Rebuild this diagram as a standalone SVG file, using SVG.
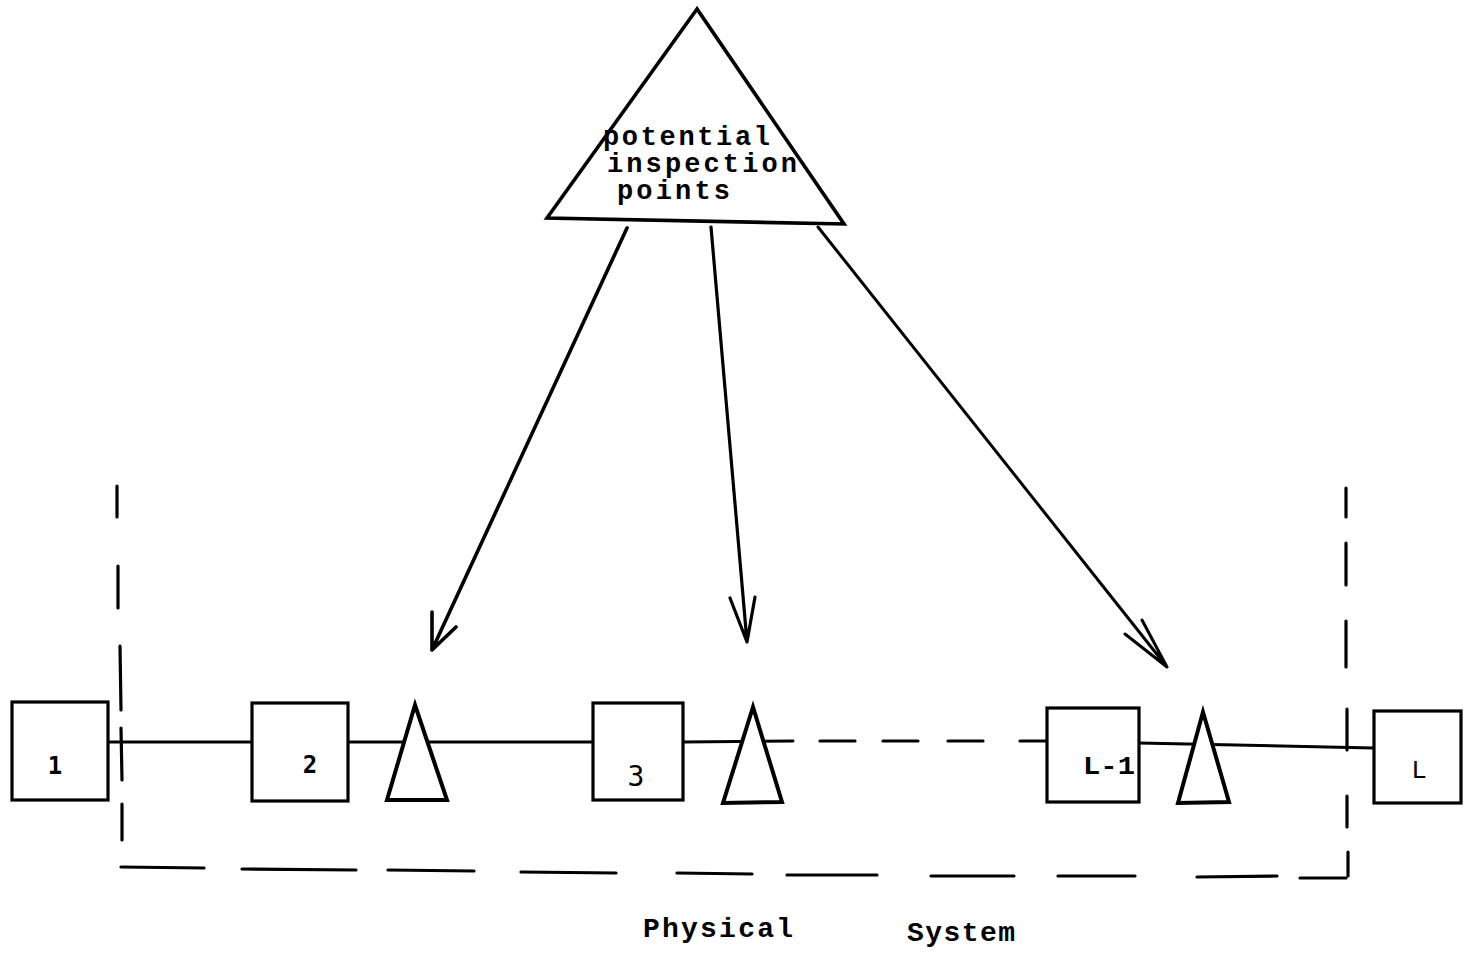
<svg xmlns="http://www.w3.org/2000/svg" width="1464" height="964" viewBox="0 0 1464 964">
<style>
.ln{fill:none;stroke:#000;stroke-linecap:round;stroke-linejoin:round}
.box{fill:#fff;stroke:#000;stroke-width:3.2}
.tri{fill:#fff;stroke:#000;stroke-width:4;stroke-linejoin:miter}
.tw{font-family:"Liberation Mono","Courier New",monospace;font-weight:bold;fill:#000}
.lbl{font-family:"DejaVu Sans Mono","Liberation Mono",monospace;fill:#000}
.dash{stroke:#000;stroke-width:3.2;stroke-linecap:round}
</style>
<rect width="1464" height="964" fill="#fff"/>

<g id="boundary">
  <line class="dash" x1="117" y1="486" x2="117" y2="517"/>
  <line class="dash" x1="118" y1="566" x2="118" y2="608"/>
  <line class="dash" x1="120" y1="646" x2="121" y2="710"/>
  <line class="dash" x1="121" y1="728" x2="122" y2="780"/>
  <line class="dash" x1="122" y1="804" x2="122" y2="840"/>
  <line class="dash" x1="121" y1="867" x2="204" y2="868"/>
  <line class="dash" x1="242" y1="869" x2="356" y2="870"/>
  <line class="dash" x1="388" y1="870" x2="474" y2="871"/>
  <line class="dash" x1="521" y1="872" x2="616" y2="873"/>
  <line class="dash" x1="677" y1="873" x2="752" y2="874"/>
  <line class="dash" x1="787" y1="875" x2="877" y2="875"/>
  <line class="dash" x1="931" y1="876" x2="1014" y2="876"/>
  <line class="dash" x1="1058" y1="876" x2="1135" y2="876"/>
  <line class="dash" x1="1197" y1="877" x2="1277" y2="876"/>
  <line class="dash" x1="1300" y1="878" x2="1346" y2="878"/>
  <line class="dash" x1="1346" y1="488" x2="1346" y2="517"/>
  <line class="dash" x1="1346" y1="543" x2="1346" y2="585"/>
  <line class="dash" x1="1346" y1="621" x2="1346" y2="667"/>
  <line class="dash" x1="1347" y1="709" x2="1347" y2="750"/>
  <line class="dash" x1="1347" y1="796" x2="1347" y2="827"/>
  <line class="dash" x1="1348" y1="852" x2="1348" y2="876"/>
</g>

<g id="connectors">
  <line class="ln" stroke-width="3" x1="109" y1="742" x2="252" y2="742"/>
  <line class="ln" stroke-width="3" x1="348" y1="742" x2="593" y2="742"/>
  <line class="ln" stroke-width="3" x1="683" y1="742" x2="793" y2="741"/>
  <line class="dash" x1="820" y1="741" x2="855" y2="741"/>
  <line class="dash" x1="883" y1="741" x2="918" y2="741"/>
  <line class="dash" x1="948" y1="741" x2="983" y2="741"/>
  <line class="dash" x1="1020" y1="741" x2="1047" y2="741"/>
  <line class="ln" stroke-width="3" x1="1139" y1="743" x2="1373" y2="748"/>
  <path class="ln" stroke-width="3.6" d="M627,228 L432,650 M432,612 L432,650 L456,627"/>
  <path class="ln" stroke-width="3.2" d="M711,227 L747,642 M730,598 L747,642 L755,597"/>
  <path class="ln" stroke-width="3" d="M818,227 L1167,667 M1125,634 L1167,667 L1142,620"/>
</g>

<g id="inspection-points">
  <polygon points="697,9 547,218 844,224" fill="#fff" stroke="#000" stroke-width="3.6" stroke-linejoin="miter"/>
  <text class="tw" font-size="27" x="603" y="145" textLength="167" lengthAdjust="spacing">potential</text>
  <text class="tw" font-size="27" x="607" y="172" textLength="190" lengthAdjust="spacing">inspection</text>
  <text class="tw" font-size="27" x="617" y="199" textLength="113" lengthAdjust="spacing">points</text>
</g>

<g id="node-1">
  <rect class="box" x="12" y="702" width="96" height="98"/>
  <text class="lbl" font-size="24" font-weight="bold" x="55" y="774" text-anchor="middle">1</text>
</g>
<g id="node-2">
  <rect class="box" x="252" y="703" width="96" height="98"/>
  <text class="lbl" font-size="24" font-weight="bold" x="310" y="773" text-anchor="middle">2</text>
</g>
<g id="tri-1">
  <polygon class="tri" points="415,705 387,800 447,800"/>
</g>
<g id="node-3">
  <rect class="box" x="593" y="703" width="90" height="97"/>
  <text class="lbl" font-size="28" x="636" y="786" text-anchor="middle">3</text>
</g>
<g id="tri-2">
  <polygon class="tri" points="753,707 723,803 782,802"/>
</g>
<g id="node-L-1">
  <rect class="box" x="1047" y="708" width="92" height="94"/>
  <text class="tw" font-size="26" x="1083" y="774" textLength="52" lengthAdjust="spacingAndGlyphs">L-1</text>
</g>
<g id="tri-3">
  <polygon class="tri" points="1203,712 1178,803 1229,802"/>
</g>
<g id="node-L">
  <rect class="box" x="1374" y="711" width="87" height="92"/>
  <text x="1419" y="778" text-anchor="middle" style="font-family:'Liberation Mono','Courier New',monospace;font-size:26px;font-weight:normal;fill:#000">L</text>
</g>

<g id="caption">
  <text class="tw" font-size="28" x="643" y="937" textLength="150" lengthAdjust="spacing">Physical</text>
  <text class="tw" font-size="28" x="907" y="941" textLength="108" lengthAdjust="spacing">System</text>
</g>
</svg>
